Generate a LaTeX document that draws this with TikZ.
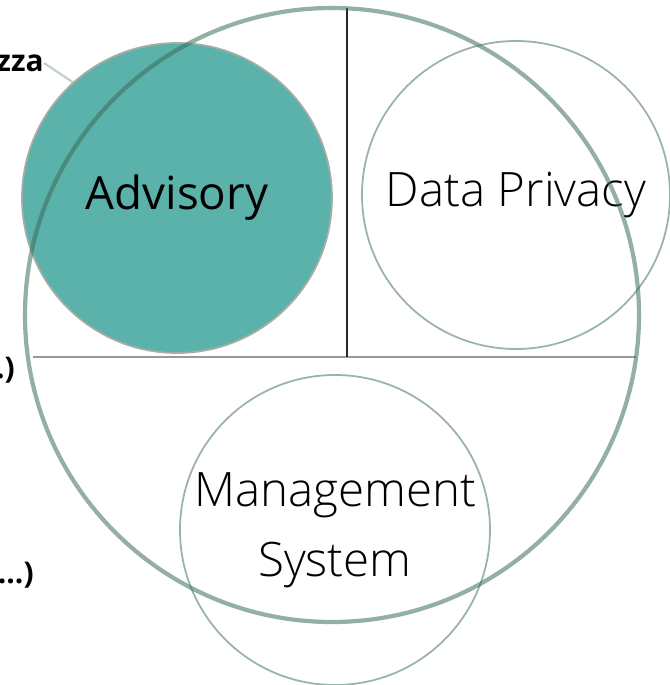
\documentclass[tikz,border=0pt]{standalone}
\usepackage{fontspec}
\setmainfont{Open Sans}
\newfontfamily\lightfont{Open Sans Light}

\definecolor{advteal}{HTML}{5AB2AA}
\definecolor{ringgreen}{HTML}{3C6E5A}
\definecolor{thinring}{HTML}{9AB3A8}
\definecolor{advedge}{HTML}{A7ADA5}

\tikzset{
  area/.style={circle, draw=thinring, line width=1pt, minimum size=6.2cm, inner sep=0pt, align=center, font=\lightfont\fontsize{27}{40}\selectfont},
  side/.style={anchor=east, inner sep=0pt, font=\bfseries\fontsize{17}{20}\selectfont}
}

\begin{document}
\begin{tikzpicture}
    \useasboundingbox (0,0) rectangle (13.38,13.70);
    %% Draw the areas
    \node[area, fill=advteal, draw=advedge, font=\fontsize{26}{32}\selectfont] (Adv) at (3.54,9.74) {Advisory};
    \node[area, minimum size=6.16cm] (DP) at (10.32,9.80) {Data Privacy};
    \node[area] (MS) at (6.70,3.10) {Management\\System};
    %% Draw the side labels
    \node[side] (Sic) at (0.88,12.44) {zza};
    \node[side] (Mid) at (0.30,6.30) {.)};
    \node[side] (Low) at (0.68,2.20) {...)};
    \draw[thinring!60, line width=1.3pt] (Sic.east) -- (Adv.132);
    %% Draw the dividing lines
    \coordinate (Top) at (6.94,13.53);
    \coordinate (Cross) at (6.94,6.56);
    \coordinate (Left) at (0.66,6.56);
    \coordinate (Right) at (12.72,6.56);
    \draw[black!40, line width=0.8pt] (Left) -- (Right);
    \draw[black!85, line width=0.8pt] (Top) -- (Cross);
    %% Draw the outer ring
    \node[circle, draw=ringgreen, draw opacity=0.55, line width=2.4pt, minimum size=12.28cm, inner sep=0pt] (Big) at (6.64,7.40) {};
  \end{tikzpicture}
\end{document}
